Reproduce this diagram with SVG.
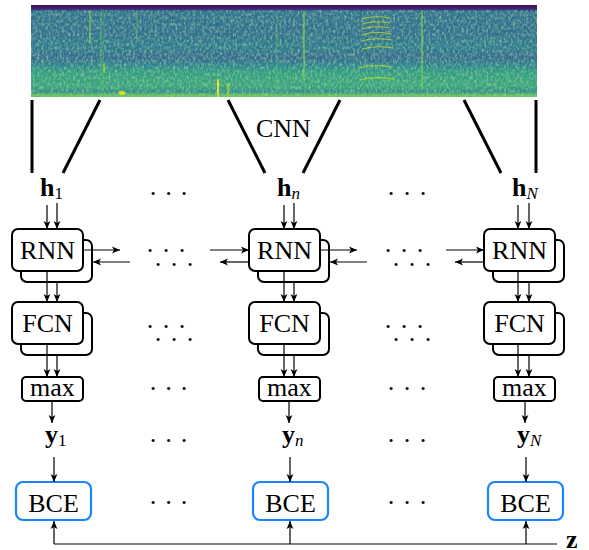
<svg xmlns="http://www.w3.org/2000/svg" width="589" height="550" viewBox="0 0 589 550">
<style>
text{font-family:"Liberation Serif","Times New Roman","DejaVu Serif",serif}
.t{font-size:26px;fill:#000}
.b{font-weight:bold}
.sub{font-size:17px}
.box{fill:#fff;stroke:#000;stroke-width:2}
.bce{fill:#fff;stroke:#1a85ff;stroke-width:2.2}
.ar{stroke:#000;stroke-width:1.2;fill:none;marker-end:url(#ah)}
.fn{stroke:#000;stroke-width:3;fill:none}
.dot{font-size:26px;fill:#000;text-anchor:middle;dominant-baseline:central}
</style>
<defs>
<marker id="ah" markerWidth="10" markerHeight="8" refX="8" refY="4" orient="auto" markerUnits="userSpaceOnUse">
<path d="M8,4 L0,0.6 L2,4 L0,7.4 Z" fill="#000"/>
</marker>
<linearGradient id="spec" x1="0" y1="0" x2="0" y2="1">
<stop offset="0" stop-color="#46085c"/>
<stop offset="0.045" stop-color="#3e2b76"/>
<stop offset="0.07" stop-color="#2c738e"/>
<stop offset="0.3" stop-color="#2d6e8e"/>
<stop offset="0.45" stop-color="#2a7b8e"/>
<stop offset="0.58" stop-color="#306b8d"/>
<stop offset="0.66" stop-color="#26878d"/>
<stop offset="0.74" stop-color="#2ea07e"/>
<stop offset="0.88" stop-color="#37a87a"/>
<stop offset="0.94" stop-color="#2b8f86"/>
<stop offset="1" stop-color="#62c95e"/>
</linearGradient>
<filter id="nz1" filterUnits="userSpaceOnUse" x="31" y="10" width="506" height="87">
<feTurbulence type="fractalNoise" baseFrequency="0.45 0.3" numOctaves="2" seed="4"/>
<feColorMatrix type="matrix" values="0 0 0 0 0.5  0 0 0 0 0.82  0 0 0 0 0.35  1.3 0 0 0 -0.55"/>
</filter>
<filter id="nz2" filterUnits="userSpaceOnUse" x="31" y="10" width="506" height="87">
<feTurbulence type="fractalNoise" baseFrequency="0.4 0.45" numOctaves="2" seed="11"/>
<feColorMatrix type="matrix" values="0 0 0 0 0.2  0 0 0 0 0.25  0 0 0 0 0.5  1.3 0 0 0 -0.6"/>
</filter>
</defs>

<g id="spectrogram">
<rect x="31" y="5" width="506" height="92" fill="url(#spec)"/>
<rect x="31" y="10" width="506" height="87" fill="#fff" filter="url(#nz2)"/>
<rect x="31" y="10" width="506" height="87" fill="#fff" filter="url(#nz1)"/>
<g fill="none" stroke-linecap="round">
<line x1="90" y1="11" x2="90" y2="43" stroke="#a8db34" stroke-width="1.3" opacity="0.7"/>
<line x1="102" y1="11" x2="102" y2="94" stroke="#52c569" stroke-width="4" opacity="0.25"/>
<line x1="104" y1="64" x2="104" y2="72" stroke="#c2df23" stroke-width="2" opacity="0.6"/>
<line x1="137" y1="11" x2="137" y2="40" stroke="#7ad151" stroke-width="1.2" opacity="0.5"/>
<line x1="155" y1="11" x2="155" y2="40" stroke="#5ec962" stroke-width="1" opacity="0.3"/>
<line x1="218" y1="80" x2="218" y2="96" stroke="#fde725" stroke-width="2" opacity="0.9"/>
<line x1="228" y1="84" x2="228" y2="96" stroke="#c8e020" stroke-width="1.5" opacity="0.8"/>
<line x1="277" y1="11" x2="277" y2="90" stroke="#5ec962" stroke-width="1.2" opacity="0.5"/>
<line x1="304" y1="12" x2="304" y2="80" stroke="#a0da39" stroke-width="1.4" opacity="0.7"/>
<line x1="422" y1="11" x2="422" y2="89" stroke="#8fd744" stroke-width="1.4" opacity="0.75"/>
<line x1="491" y1="36" x2="491" y2="45" stroke="#7ad151" stroke-width="1.5" opacity="0.5"/>
<line x1="508" y1="60" x2="508" y2="90" stroke="#6ccd5a" stroke-width="1" opacity="0.4"/>
<line x1="31" y1="95" x2="537" y2="95" stroke="#7ad151" stroke-width="1.5" opacity="0.6"/>
<ellipse cx="122" cy="93" rx="3.5" ry="2" fill="#e5e419" stroke="none" opacity="0.9"/>
<path d="M362,19 Q374,15 390,18 M362,24 Q374,20 390,23 M362,29 Q374,25 390,28 M362,35 Q374,30 391,34 M362,41 Q374,37 392,40 M363,49 Q375,45 393,48" stroke="#c8e020" stroke-width="1.1" opacity="0.75"/>
<path d="M359,68 Q372,64 390,67 M360,80 Q374,76 394,79" stroke="#b5de2b" stroke-width="1.3" opacity="0.75"/>
</g>
</g>

<g id="cnn">
<line class="fn" x1="32" y1="100" x2="32" y2="173"/>
<line class="fn" x1="100" y1="100" x2="63" y2="173"/>
<line class="fn" x1="228" y1="100" x2="265" y2="173"/>
<line class="fn" x1="340" y1="100" x2="303" y2="173"/>
<line class="fn" x1="464" y1="100" x2="501" y2="173"/>
<line class="fn" x1="536" y1="100" x2="536" y2="173"/>
<text class="t" x="256" y="137">CNN</text>
</g>

<g id="labels">
<text class="t" x="40" y="196"><tspan class="b">h</tspan><tspan class="sub" dy="3">1</tspan></text>
<text class="t" x="277" y="196"><tspan class="b">h</tspan><tspan class="sub" dy="3" font-style="italic">n</tspan></text>
<text class="t" x="512" y="196"><tspan class="b">h</tspan><tspan class="sub" dy="3" font-style="italic">N</tspan></text>
<text class="t" x="45" y="443"><tspan class="b">y</tspan><tspan class="sub" dy="3">1</tspan></text>
<text class="t" x="282" y="443"><tspan class="b">y</tspan><tspan class="sub" dy="3" font-style="italic">n</tspan></text>
<text class="t" x="517" y="443"><tspan class="b">y</tspan><tspan class="sub" dy="3" font-style="italic">N</tspan></text>
<text class="t b" x="566" y="548">z</text>
</g>

<g id="dots">
<text class="dot" x="153 168.5 184" y="193">···</text>
<text class="dot" x="391 407 423" y="193">···</text>
<text class="dot" x="150 166 182 158 174 190" y="250 250 250 264 264 264">······</text>
<text class="dot" x="388 404 420 396 412 428" y="250 250 250 264 264 264">······</text>
<text class="dot" x="150 166 182 158 174 190" y="326 326 326 339 339 339">······</text>
<text class="dot" x="388 404 420 396 412 428" y="326 326 326 339 339 339">······</text>
<text class="dot" x="153 168.5 184" y="388">···</text>
<text class="dot" x="391 407 423" y="388">···</text>
<text class="dot" x="153 168.5 184" y="440">···</text>
<text class="dot" x="391 407 423" y="440">···</text>
<text class="dot" x="153 168.5 184" y="502">···</text>
<text class="dot" x="391 407 423" y="502">···</text>
</g>

<g id="rnn1"><rect class="box" x="21" y="240" width="71" height="42" rx="6"/><rect class="box" x="12" y="229" width="71" height="42" rx="6"/><text class="t" x="47.5" y="259" text-anchor="middle">RNN</text></g>
<g id="rnn2"><rect class="box" x="258" y="240" width="71" height="42" rx="6"/><rect class="box" x="249" y="229" width="71" height="42" rx="6"/><text class="t" x="284.5" y="259" text-anchor="middle">RNN</text></g>
<g id="rnn3"><rect class="box" x="493" y="240" width="71" height="42" rx="6"/><rect class="box" x="484" y="229" width="71" height="42" rx="6"/><text class="t" x="519.5" y="259" text-anchor="middle">RNN</text></g>

<g id="fcn1"><rect class="box" x="21" y="313" width="71" height="42" rx="6"/><rect class="box" x="12" y="302" width="71" height="42" rx="6"/><text class="t" x="47.5" y="332" text-anchor="middle">FCN</text></g>
<g id="fcn2"><rect class="box" x="258" y="313" width="71" height="42" rx="6"/><rect class="box" x="249" y="302" width="71" height="42" rx="6"/><text class="t" x="284.5" y="332" text-anchor="middle">FCN</text></g>
<g id="fcn3"><rect class="box" x="493" y="313" width="71" height="42" rx="6"/><rect class="box" x="484" y="302" width="71" height="42" rx="6"/><text class="t" x="519.5" y="332" text-anchor="middle">FCN</text></g>

<g id="max1"><rect class="box" x="22" y="377" width="61" height="24" rx="4"/><text class="t" x="52.5" y="396" text-anchor="middle">max</text></g>
<g id="max2"><rect class="box" x="259" y="377" width="61" height="24" rx="4"/><text class="t" x="289.5" y="396" text-anchor="middle">max</text></g>
<g id="max3"><rect class="box" x="494" y="377" width="61" height="24" rx="4"/><text class="t" x="524.5" y="396" text-anchor="middle">max</text></g>

<g id="bce1"><rect class="bce" x="16" y="482" width="75" height="38" rx="7"/><text class="t" x="53.5" y="512" text-anchor="middle">BCE</text></g>
<g id="bce2"><rect class="bce" x="253" y="482" width="75" height="38" rx="7"/><text class="t" x="290.5" y="512" text-anchor="middle">BCE</text></g>
<g id="bce3"><rect class="bce" x="488" y="482" width="75" height="38" rx="7"/><text class="t" x="525.5" y="512" text-anchor="middle">BCE</text></g>

<g id="connectors">
<line class="ar" x1="47" y1="205" x2="47" y2="229"/>
<line class="ar" x1="57" y1="203" x2="57" y2="229"/>
<line class="ar" x1="284" y1="205" x2="284" y2="229"/>
<line class="ar" x1="294" y1="203" x2="294" y2="229"/>
<line class="ar" x1="518" y1="205" x2="518" y2="229"/>
<line class="ar" x1="529" y1="203" x2="529" y2="229"/>

<line class="ar" x1="47" y1="271" x2="47" y2="302"/>
<line class="ar" x1="57" y1="282" x2="57" y2="302"/>
<line class="ar" x1="284" y1="271" x2="284" y2="302"/>
<line class="ar" x1="294" y1="282" x2="294" y2="302"/>
<line class="ar" x1="518" y1="271" x2="518" y2="302"/>
<line class="ar" x1="529" y1="282" x2="529" y2="302"/>

<line class="ar" x1="47" y1="344" x2="47" y2="377"/>
<line class="ar" x1="57" y1="355" x2="57" y2="377"/>
<line class="ar" x1="284" y1="344" x2="284" y2="377"/>
<line class="ar" x1="294" y1="355" x2="294" y2="377"/>
<line class="ar" x1="518" y1="344" x2="518" y2="377"/>
<line class="ar" x1="529" y1="355" x2="529" y2="377"/>

<line class="ar" x1="52" y1="401" x2="52" y2="423"/>
<line class="ar" x1="289" y1="401" x2="289" y2="423"/>
<line class="ar" x1="525" y1="401" x2="525" y2="423"/>

<line class="ar" x1="54" y1="457" x2="54" y2="482"/>
<line class="ar" x1="290" y1="457" x2="290" y2="482"/>
<line class="ar" x1="526" y1="457" x2="526" y2="482"/>

<line x1="54" y1="544" x2="557" y2="544" stroke="#000" stroke-width="1.2"/>
<line class="ar" x1="54" y1="544" x2="54" y2="521"/>
<line class="ar" x1="290" y1="544" x2="290" y2="521"/>
<line class="ar" x1="526" y1="544" x2="526" y2="521"/>

<line class="ar" x1="83" y1="250" x2="120" y2="250"/>
<line class="ar" x1="130" y1="262" x2="93" y2="262"/>
<line class="ar" x1="210" y1="250" x2="249" y2="250"/>
<line class="ar" x1="249" y1="262" x2="220" y2="262"/>
<line class="ar" x1="320" y1="250" x2="357" y2="250"/>
<line class="ar" x1="367" y1="262" x2="330" y2="262"/>
<line class="ar" x1="446" y1="250" x2="484" y2="250"/>
<line class="ar" x1="484" y1="262" x2="455" y2="262"/>
</g>
</svg>
